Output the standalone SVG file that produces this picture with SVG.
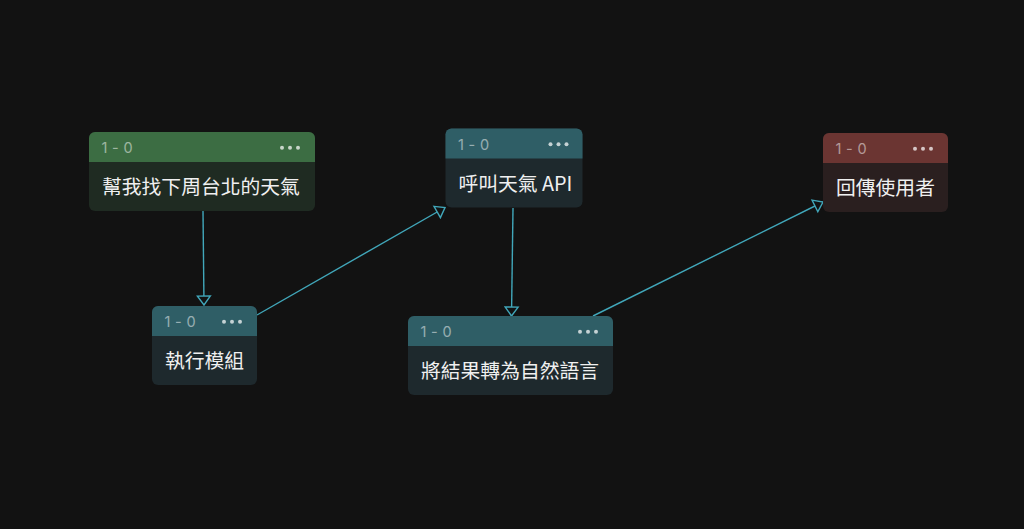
<svg xmlns="http://www.w3.org/2000/svg" width="1024" height="529" viewBox="0 0 1024 529">
<style>
.bg{fill:#121212}
.edge{fill:none;stroke:#41a7ba;stroke-width:1.4}
.gh{fill:#3c6d43}.gb{fill:#1f2b22}
.th{fill:#2f5e66}.tb{fill:#1e292d}
.rh{fill:#6b3532}.rb{fill:#2a1f1f}
.meta{font-family:Inter,"Liberation Sans",sans-serif;font-size:14.5px;fill:#ffffff;fill-opacity:0.5;letter-spacing:0.3px}
.dot{fill:#ffffff;fill-opacity:0.72}
.label{font-family:"Noto Sans CJK TC","Noto Sans CJK SC",sans-serif;font-size:19.8px;fill:#f0f0f0}
</style>
<defs>
<marker id="arr" viewBox="-11 -8 13 16" refX="0" refY="0" markerWidth="13" markerHeight="16" markerUnits="userSpaceOnUse" orient="auto">
<path d="M-9,-6.5 L0,0 L-9,6.5 Z" fill="#121212" stroke="#41a7ba" stroke-width="1.4" stroke-linejoin="miter"/>
</marker>
</defs>
<rect class="bg" x="0" y="0" width="1024" height="529"/>
<g id="edges">
<path class="edge" d="M203,211 L204,305" marker-end="url(#arr)"/>
<path class="edge" d="M257,315 L445,207.5" marker-end="url(#arr)"/>
<path class="edge" d="M513,208 L511.5,316" marker-end="url(#arr)"/>
<path class="edge" d="M593,316 L823,202" marker-end="url(#arr)"/>
</g>
<g id="n1" transform="translate(89,132)">
<rect class="gb" width="226" height="79" rx="6"/>
<path class="gh" d="M0,30 V6 A6,6 0 0 1 6,0 H220 A6,6 0 0 1 226,6 V30 Z"/>
<text class="meta" x="12.5" y="21">1 - 0</text>
<circle class="dot" cx="193" cy="15.7" r="2"/><circle class="dot" cx="201" cy="15.7" r="2"/><circle class="dot" cx="209" cy="15.7" r="2"/>
<text class="label" x="13" y="62">幫我找下周台北的天氣</text>
</g>
<g id="n2" transform="translate(152,306)">
<rect class="tb" width="105" height="79" rx="6"/>
<path class="th" d="M0,30 V6 A6,6 0 0 1 6,0 H99 A6,6 0 0 1 105,6 V30 Z"/>
<text class="meta" x="12.5" y="21">1 - 0</text>
<circle class="dot" cx="72" cy="15.7" r="2"/><circle class="dot" cx="80" cy="15.7" r="2"/><circle class="dot" cx="88" cy="15.7" r="2"/>
<text class="label" x="13" y="62">執行模組</text>
</g>
<g id="n3" transform="translate(445.5,128.5)">
<rect class="tb" width="137" height="79" rx="6"/>
<path class="th" d="M0,30 V6 A6,6 0 0 1 6,0 H131 A6,6 0 0 1 137,6 V30 Z"/>
<text class="meta" x="12.5" y="21">1 - 0</text>
<circle class="dot" cx="105" cy="15.7" r="2"/><circle class="dot" cx="113" cy="15.7" r="2"/><circle class="dot" cx="121" cy="15.7" r="2"/>
<text class="label" x="13" y="62">呼叫天氣 API</text>
</g>
<g id="n4" transform="translate(408,316)">
<rect class="tb" width="205" height="79" rx="6"/>
<path class="th" d="M0,30 V6 A6,6 0 0 1 6,0 H199 A6,6 0 0 1 205,6 V30 Z"/>
<text class="meta" x="12.5" y="21">1 - 0</text>
<circle class="dot" cx="172" cy="15.7" r="2"/><circle class="dot" cx="180" cy="15.7" r="2"/><circle class="dot" cx="188" cy="15.7" r="2"/>
<text class="label" x="13" y="62">將結果轉為自然語言</text>
</g>
<g id="n5" transform="translate(823,133)">
<rect class="rb" width="125" height="79" rx="6"/>
<path class="rh" d="M0,30 V6 A6,6 0 0 1 6,0 H119 A6,6 0 0 1 125,6 V30 Z"/>
<text class="meta" x="12.5" y="21">1 - 0</text>
<circle class="dot" cx="92" cy="15.7" r="2"/><circle class="dot" cx="100" cy="15.7" r="2"/><circle class="dot" cx="108" cy="15.7" r="2"/>
<text class="label" x="13" y="62">回傳使用者</text>
</g>
</svg>
